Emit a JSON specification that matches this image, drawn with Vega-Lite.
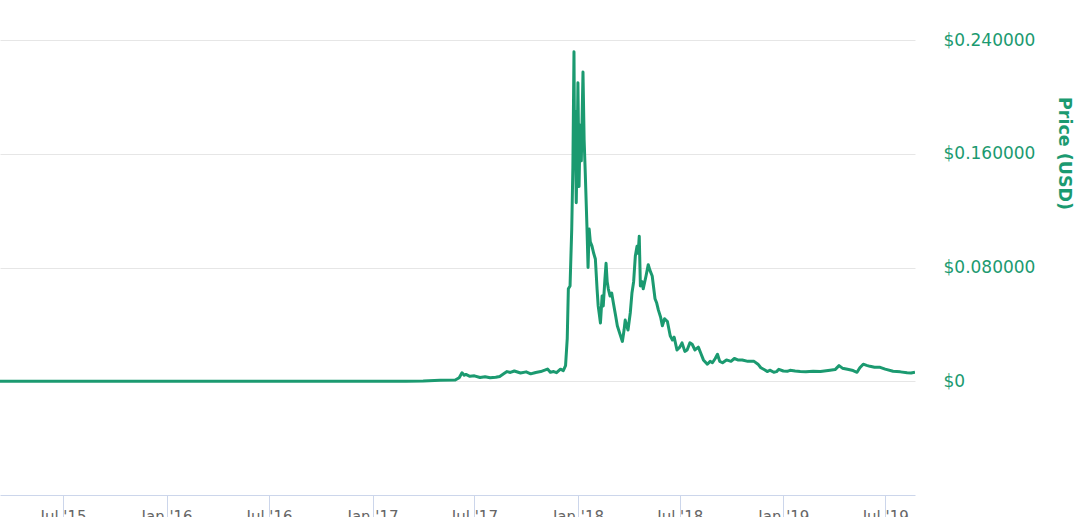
{
  "$schema": "https://vega.github.io/schema/vega-lite/v6.json",
  "autosize": "none",
  "width": 915,
  "height": 455,
  "padding": {"left": 0, "top": 40, "right": 165, "bottom": 22},
  "background": "white",
  "config": {"view": {"stroke": null}, "font": "DejaVu Sans"},
  "data": {"values": [
    {"date": "2015-03-11", "price": 0.00004},
    {"date": "2015-06-01", "price": 0.00003},
    {"date": "2015-10-01", "price": 0.00002},
    {"date": "2016-02-01", "price": 0.00003},
    {"date": "2016-06-01", "price": 0.00004},
    {"date": "2016-10-01", "price": 0.00002},
    {"date": "2017-01-01", "price": 0.00002},
    {"date": "2017-03-01", "price": 0.00005},
    {"date": "2017-04-01", "price": 0.0002},
    {"date": "2017-05-01", "price": 0.0007},
    {"date": "2017-05-28", "price": 0.0009},
    {"date": "2017-06-04", "price": 0.0025},
    {"date": "2017-06-09", "price": 0.006},
    {"date": "2017-06-13", "price": 0.0042},
    {"date": "2017-06-16", "price": 0.0048},
    {"date": "2017-06-23", "price": 0.0035},
    {"date": "2017-07-01", "price": 0.0038},
    {"date": "2017-07-11", "price": 0.0026},
    {"date": "2017-07-20", "price": 0.0032},
    {"date": "2017-07-29", "price": 0.0024},
    {"date": "2017-08-08", "price": 0.0028},
    {"date": "2017-08-15", "price": 0.0034},
    {"date": "2017-08-22", "price": 0.0052},
    {"date": "2017-08-28", "price": 0.0068},
    {"date": "2017-09-03", "price": 0.0062},
    {"date": "2017-09-10", "price": 0.0072},
    {"date": "2017-09-21", "price": 0.0058},
    {"date": "2017-10-01", "price": 0.0066},
    {"date": "2017-10-09", "price": 0.0052},
    {"date": "2017-10-18", "price": 0.0062},
    {"date": "2017-10-27", "price": 0.0068},
    {"date": "2017-11-03", "price": 0.0078},
    {"date": "2017-11-08", "price": 0.0086},
    {"date": "2017-11-13", "price": 0.0063},
    {"date": "2017-11-19", "price": 0.0068},
    {"date": "2017-11-24", "price": 0.006},
    {"date": "2017-12-01", "price": 0.0085},
    {"date": "2017-12-06", "price": 0.0075},
    {"date": "2017-12-10", "price": 0.011},
    {"date": "2017-12-13", "price": 0.03},
    {"date": "2017-12-15", "price": 0.065},
    {"date": "2017-12-18", "price": 0.067},
    {"date": "2017-12-21", "price": 0.107},
    {"date": "2017-12-23", "price": 0.15},
    {"date": "2017-12-25", "price": 0.2318},
    {"date": "2017-12-26", "price": 0.16},
    {"date": "2017-12-27", "price": 0.19},
    {"date": "2017-12-29", "price": 0.1256},
    {"date": "2017-12-31", "price": 0.175},
    {"date": "2018-01-01", "price": 0.21},
    {"date": "2018-01-03", "price": 0.137},
    {"date": "2018-01-05", "price": 0.18},
    {"date": "2018-01-07", "price": 0.155},
    {"date": "2018-01-10", "price": 0.2175},
    {"date": "2018-01-12", "price": 0.17},
    {"date": "2018-01-14", "price": 0.147},
    {"date": "2018-01-17", "price": 0.109},
    {"date": "2018-01-19", "price": 0.08},
    {"date": "2018-01-21", "price": 0.107},
    {"date": "2018-01-23", "price": 0.098},
    {"date": "2018-01-26", "price": 0.095},
    {"date": "2018-01-29", "price": 0.09},
    {"date": "2018-02-01", "price": 0.086},
    {"date": "2018-02-04", "price": 0.065},
    {"date": "2018-02-06", "price": 0.053},
    {"date": "2018-02-08", "price": 0.047},
    {"date": "2018-02-10", "price": 0.041},
    {"date": "2018-02-13", "price": 0.06},
    {"date": "2018-02-15", "price": 0.053},
    {"date": "2018-02-18", "price": 0.072},
    {"date": "2018-02-20", "price": 0.083},
    {"date": "2018-02-22", "price": 0.07},
    {"date": "2018-02-24", "price": 0.065},
    {"date": "2018-02-27", "price": 0.06},
    {"date": "2018-03-02", "price": 0.062},
    {"date": "2018-03-05", "price": 0.055},
    {"date": "2018-03-09", "price": 0.046},
    {"date": "2018-03-12", "price": 0.039},
    {"date": "2018-03-16", "price": 0.034},
    {"date": "2018-03-21", "price": 0.028},
    {"date": "2018-03-24", "price": 0.036},
    {"date": "2018-03-26", "price": 0.043},
    {"date": "2018-03-31", "price": 0.036},
    {"date": "2018-04-04", "price": 0.048},
    {"date": "2018-04-07", "price": 0.062},
    {"date": "2018-04-10", "price": 0.07},
    {"date": "2018-04-13", "price": 0.088},
    {"date": "2018-04-16", "price": 0.095},
    {"date": "2018-04-18", "price": 0.09},
    {"date": "2018-04-20", "price": 0.102},
    {"date": "2018-04-22", "price": 0.067},
    {"date": "2018-04-25", "price": 0.07},
    {"date": "2018-04-27", "price": 0.065},
    {"date": "2018-05-02", "price": 0.074},
    {"date": "2018-05-06", "price": 0.082},
    {"date": "2018-05-09", "price": 0.078},
    {"date": "2018-05-13", "price": 0.074},
    {"date": "2018-05-18", "price": 0.058},
    {"date": "2018-05-21", "price": 0.055},
    {"date": "2018-05-24", "price": 0.05},
    {"date": "2018-05-28", "price": 0.045},
    {"date": "2018-05-31", "price": 0.039},
    {"date": "2018-06-04", "price": 0.044},
    {"date": "2018-06-09", "price": 0.042},
    {"date": "2018-06-14", "price": 0.032},
    {"date": "2018-06-18", "price": 0.029},
    {"date": "2018-06-21", "price": 0.031},
    {"date": "2018-06-26", "price": 0.022},
    {"date": "2018-07-01", "price": 0.024},
    {"date": "2018-07-05", "price": 0.027},
    {"date": "2018-07-10", "price": 0.021},
    {"date": "2018-07-14", "price": 0.022},
    {"date": "2018-07-19", "price": 0.027},
    {"date": "2018-07-23", "price": 0.026},
    {"date": "2018-07-28", "price": 0.022},
    {"date": "2018-08-03", "price": 0.024},
    {"date": "2018-08-07", "price": 0.02},
    {"date": "2018-08-12", "price": 0.015},
    {"date": "2018-08-19", "price": 0.012},
    {"date": "2018-08-24", "price": 0.014},
    {"date": "2018-08-28", "price": 0.013},
    {"date": "2018-09-02", "price": 0.016},
    {"date": "2018-09-06", "price": 0.019},
    {"date": "2018-09-10", "price": 0.014},
    {"date": "2018-09-15", "price": 0.013},
    {"date": "2018-09-22", "price": 0.015},
    {"date": "2018-09-30", "price": 0.014},
    {"date": "2018-10-06", "price": 0.016},
    {"date": "2018-10-12", "price": 0.015},
    {"date": "2018-10-20", "price": 0.015},
    {"date": "2018-10-30", "price": 0.014},
    {"date": "2018-11-10", "price": 0.014},
    {"date": "2018-11-17", "price": 0.012},
    {"date": "2018-11-22", "price": 0.0095},
    {"date": "2018-11-27", "price": 0.0084},
    {"date": "2018-12-04", "price": 0.0068},
    {"date": "2018-12-08", "price": 0.0078},
    {"date": "2018-12-15", "price": 0.0063},
    {"date": "2018-12-20", "price": 0.0068},
    {"date": "2018-12-24", "price": 0.0084},
    {"date": "2019-01-01", "price": 0.0072},
    {"date": "2019-01-08", "price": 0.007},
    {"date": "2019-01-13", "price": 0.0077},
    {"date": "2019-01-22", "price": 0.0072},
    {"date": "2019-01-31", "price": 0.0068},
    {"date": "2019-02-10", "price": 0.0066},
    {"date": "2019-02-23", "price": 0.007},
    {"date": "2019-03-08", "price": 0.0068},
    {"date": "2019-03-25", "price": 0.0077},
    {"date": "2019-04-03", "price": 0.0082},
    {"date": "2019-04-10", "price": 0.011},
    {"date": "2019-04-16", "price": 0.0092},
    {"date": "2019-04-25", "price": 0.0084},
    {"date": "2019-05-05", "price": 0.0075},
    {"date": "2019-05-12", "price": 0.0063},
    {"date": "2019-05-17", "price": 0.0095},
    {"date": "2019-05-23", "price": 0.012},
    {"date": "2019-05-29", "price": 0.0112},
    {"date": "2019-06-04", "price": 0.0105},
    {"date": "2019-06-12", "price": 0.0098},
    {"date": "2019-06-22", "price": 0.0098},
    {"date": "2019-07-01", "price": 0.0085},
    {"date": "2019-07-15", "price": 0.007},
    {"date": "2019-07-28", "price": 0.0066},
    {"date": "2019-08-09", "price": 0.006},
    {"date": "2019-08-16", "price": 0.0058},
    {"date": "2019-08-23", "price": 0.0064}
  ]},
  "mark": {"type": "line", "color": "#1b9a70", "strokeWidth": 3, "strokeJoin": "round", "clip": true},
  "encoding": {
    "x": {
      "field": "date",
      "type": "temporal",
      "scale": {"type": "utc", "domain": ["2015-03-11", "2019-08-23"]},
      "axis": {
        "title": null,
        "grid": false,
        "values": ["2015-07-01", "2016-01-01", "2016-07-01", "2017-01-01", "2017-07-01", "2018-01-01", "2018-07-01", "2019-01-01", "2019-07-01"],
        "labelExpr": "utcFormat(datum.value, \"%b '%y\")",
        "domainColor": "#ccd6eb",
        "domainWidth": 1,
        "tickColor": "#ccd6eb",
        "tickWidth": 1,
        "tickSize": 24,
        "labelPadding": -10,
        "labelColor": "#666666",
        "labelFontSize": 15,
        "labelBaseline": "top",
        "labelFlush": false,
        "labelOverlap": false
      }
    },
    "y": {
      "field": "price",
      "type": "quantitative",
      "scale": {"domain": [-0.08, 0.24], "nice": false, "zero": false},
      "axis": {
        "orient": "right",
        "values": [0, 0.08, 0.16, 0.24],
        "labelExpr": "datum.value == 0 ? '$0' : '$' + format(datum.value, '.6f')",
        "domain": false,
        "ticks": false,
        "grid": true,
        "gridColor": "#e6e6e6",
        "gridWidth": 1,
        "labelColor": "#1b9a70",
        "labelFontSize": 17,
        "labelPadding": 28,
        "labelAlign": "left",
        "labelBaseline": "middle",
        "title": "Price (USD)",
        "titleColor": "#1b9a70",
        "titleFontSize": 17.5,
        "titleFontWeight": "bold",
        "titleAngle": 90,
        "titleX": 148,
        "titleY": 113,
        "titleAlign": "center",
        "titleBaseline": "middle"
      }
    }
  }
}
